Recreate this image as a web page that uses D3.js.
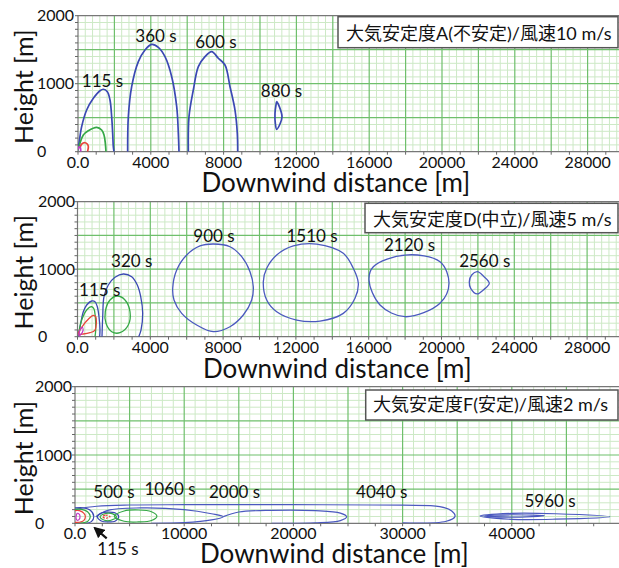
<!DOCTYPE html>
<html>
<head>
<meta charset="utf-8">
<title>Puff contours</title>
<style>
body { margin: 0; background: #fff; }
svg text { font-family: Lato, "Noto Sans CJK JP", sans-serif; fill: #111; }
.grid-minor line { stroke: #cde9c6; stroke-width: 1; }
.grid-major line { stroke: #6fbf6c; stroke-width: 1.2; }
.frame { fill: none; stroke: #777; stroke-width: 1.2; }
.tick { stroke: #666; stroke-width: 1; }
.tick-label { font-size: 16px; }
.axis-title { font-size: 26px; }
.height-title { font-size: 25px; }
.puff-label { font-size: 17px; }
.legend-box { fill: #fff; stroke: #555; stroke-width: 1.5; }
.legend-text { font-size: 18px; }
.contour { fill: none; }
</style>
</head>
<body>
<svg width="619" height="568"></svg>
<script src="https://d3js.org/d3.v7.min.js"></script>
<script>
// ---- data (downwind distance x [m], height z [m]) ----
var yTicks = [0, 1000, 2000];
var xTicksAD = [0, 4000, 8000, 12000, 16000, 20000, 24000, 28000];
var xTicksF = [0, 10000, 20000, 30000, 40000];
var titles = ["大気安定度A(不安定)/風速10 m/s", "大気安定度D(中立)/風速5 m/s", "大気安定度F(安定)/風速2 m/s"];

// stability A
var a115Blue = [[0,20],[55,123],[201,368],[476,613],[842,785],[1209,897],[1392,918],[1612,882],[1758,760],[1850,515],[1905,270],[1941,74],[1978,0]];
var a115Green = [[0,20],[293,246],[568,309],[1026,359],[1300,319],[1429,246],[1502,123],[1538,0]];
var a115Red = [[110,54],[200,110],[385,132],[520,110],[568,74],[540,20],[513,0]];
var a115Mag = [[0,30],[60,70],[130,60],[150,20],[140,0]];
var a360Blue = [[2729,0],[2766,515],[2949,956],[3315,1324],[3681,1496],[4048,1579],[4414,1535],[4780,1397],[5148,1103],[5423,662],[5513,270],[5549,0]];
var a600Blue = [[6062,0],[6099,515],[6336,907],[6612,1250],[6978,1397],[7346,1471],[7710,1374],[8077,1275],[8352,956],[8626,613],[8753,270],[8775,0]];
var a880Blue = [[10916,735],[11062,662],[11209,515],[11099,407],[10916,329],[10842,417],[10824,564],[10879,687]];
var aLabels = [["115 s",1346,956],["360 s",4286,1618],["600 s",7582,1521],["880 s",11181,809]];

// stability D
var d115Blue = [[44,0],[176,198],[319,370],[505,470],[780,529],[962,519],[1088,444],[1181,296],[1236,99],[1218,0]];
var d115Green = [[30,0],[231,247],[505,396],[780,444],[907,410],[978,296],[1000,99],[962,0]];
var d115Red = [[44,40],[319,173],[593,258],[868,317],[1000,296],[1033,198],[962,99],[687,59],[319,40]];
var d115Mag = [[82,10],[137,99],[264,139],[302,89],[176,30]];
var d320Blue = [[1346,0],[1385,296],[1456,593],[1692,766],[2060,880],[2516,929],[2978,889],[3286,766],[3473,593],[3582,346],[3489,99],[3363,0]];
var d320Green = [[2187,603],[2610,544],[2885,370],[2791,173],[2335,59],[1879,74],[1566,198],[1527,370],[1786,544]];
var d900Blue = [[5231,717],[5451,988],[6000,1210],[6731,1344],[7462,1373],[8379,1333],[9022,1185],[9478,963],[9659,741],[9571,544],[9110,321],[8379,148],[7462,74],[6549,173],[5725,346],[5302,544]];
var d1510Blue = [[10209,815],[10396,1013],[10945,1210],[11857,1344],[13143,1373],[14604,1235],[15154,1013],[15429,791],[15247,569],[14604,346],[13324,232],[12044,247],[10945,370],[10396,544]];
var d2120Blue = [[16016,840],[16254,1037],[17995,1210],[19918,1111],[20412,791],[19918,495],[17995,296],[16621,470]];
var d2560Blue = [[21527,815],[21659,914],[21967,963],[22297,899],[22626,791],[22297,692],[21967,633],[21604,717]];
var dLabels = [["115 s",1220,603],["320 s",2978,1037],["900 s",7500,1407],["1510 s",12885,1407],["2120 s",18242,1270],["2560 s",22374,1028]];

// stability F
var f115Mag = [[100,100],[200,146],[400,130],[458,97],[400,60],[200,45],[100,70]];
var f115Red = [[0,185],[400,185],[800,150],[950,100],[800,40],[400,15],[0,15]];
var f115Green = [[0,205],[600,205],[1150,170],[1400,100],[1150,25],[600,5],[0,5]];
var f115Blue = [[0,225],[700,228],[1400,190],[1720,100],[1500,25],[1000,0]];
var f500Blue = [[2045,95],[2400,150],[3000,165],[3700,150],[4000,95],[3700,35],[3000,20],[2400,35]];
var f500Green = [[2300,95],[2700,140],[3300,145],[3800,95],[3300,45],[2700,45]];
var f500Red = [[2533,97],[2800,120],[3205,97],[2800,73]];
var f1060Green = [[3600,105],[4500,180],[5800,195],[7000,170],[7500,105],[7000,40],[5800,20],[4500,30]];
var f1060Blue = [[1900,95],[3000,190],[6000,225],[10000,200],[12500,140],[13583,97],[12500,50],[10000,10],[7000,0]];
var f2000Blue = [[13583,97],[15000,165],[18000,190],[22000,185],[24300,150],[24878,97],[24300,40],[22000,5],[18000,0]];
var f4040Blue = [[0,205],[2000,250],[5000,268],[10000,272],[20000,272],[30000,265],[33400,245],[34500,180],[34800,100],[34000,30],[30000,5]];
var f5960Blue = [[37088,107],[40000,146],[44000,140],[48993,97],[44000,60],[40000,58]];
var f5960Inner = [[37500,107],[40000,125],[43000,110],[40000,90]];
var fLabels = [["500 s",3571,366],["1060 s",8700,415],["2000 s",14606,366],["4040 s",28086,366],["5960 s",43498,243],["115 s",3938,-464]];
var fArrow = [[2903,-220],[1832,-73]];

var BLUE = "#3b49b3", BLUE2 = "#4b59bf", GREEN = "#35a846", RED = "#e8433b", MAG = "#c23ac6";

var panels = [
  { left: 78, top: 15.7, bottom: 151.7, xmax: 30000, ticks: xTicksAD, minorX: 400, majorX: 2000, tickStep: 1000,
    yLabX: 37, titleX: 201.5, titleY: 191.7, boxX: 338, boxTop: 16.7, boxH: 31, textX: 346, textY: 39.5, lw: 1.7,
    contours: [[a115Blue,BLUE,0],[a115Green,GREEN,0],[a115Red,RED,0],[a115Mag,MAG,0],[a360Blue,BLUE,0],[a600Blue,BLUE,0],[a880Blue,BLUE,1]],
    labels: aLabels },
  { left: 77.5, top: 201.7, bottom: 336.7, xmax: 30000, ticks: xTicksAD, minorX: 400, majorX: 2000, tickStep: 1000,
    yLabX: 38, titleX: 203, titleY: 378, boxX: 365, boxTop: 203.3, boxH: 29.4, textX: 373, textY: 225.5, lw: 1.3,
    contours: [[d115Blue,BLUE,0],[d115Green,GREEN,0],[d115Red,RED,1],[d115Mag,MAG,1],[d320Blue,BLUE,0],[d320Green,GREEN,1],[d900Blue,BLUE2,1],[d1510Blue,BLUE2,1],[d2120Blue,BLUE2,1],[d2560Blue,BLUE2,1]],
    labels: dLabels },
  { left: 75, top: 386.7, bottom: 523.3, xmax: 50000, ticks: xTicksF, minorX: 1000, majorX: 5000, tickStep: 2500,
    yLabX: 35, titleX: 200, titleY: 563, boxX: 365.7, boxTop: 390, boxH: 30, textX: 373, textY: 411, lw: 1.2,
    contours: [[f4040Blue,BLUE2,0],[f1060Blue,BLUE2,0],[f2000Blue,BLUE2,0],[f115Blue,BLUE,0],[f115Green,GREEN,0],[f115Red,RED,0],[f115Mag,MAG,1],[f500Blue,BLUE,1],[f500Green,GREEN,1],[f500Red,RED,1],[f1060Green,GREEN,1],[f5960Blue,BLUE2,1],[f5960Inner,BLUE2,1]],
    labels: fLabels }
];

var svg = d3.select("svg");
var width = +svg.attr("width");
var plotW = 546;

panels.forEach(function (p, pi) {
  var x = d3.scaleLinear().domain([0, p.xmax]).range([p.left, p.left + plotW]);
  var y = d3.scaleLinear().domain([0, 2000]).range([p.bottom, p.top]);
  var g = svg.append("g");

  g.append("clipPath").attr("id", "clip" + pi)
    .append("rect").attr("x", p.left).attr("y", p.top)
    .attr("width", plotW).attr("height", p.bottom - p.top);

  // graph-paper grid
  var minorX = d3.range(0, p.xmax + 1, p.minorX).filter(function (v) { return v % p.majorX !== 0; });
  var majorX = d3.range(p.majorX, p.xmax + 1, p.majorX);
  var minorY = d3.range(100, 2000, 100).filter(function (v) { return v % 500 !== 0; });
  var majorY = d3.range(500, 2000, 500);

  var gm = g.append("g").attr("class", "grid-minor");
  gm.selectAll(".vx").data(minorX).enter().append("line")
    .attr("x1", d => x(d)).attr("x2", d => x(d)).attr("y1", p.top).attr("y2", p.bottom);
  gm.selectAll(".hy").data(minorY).enter().append("line")
    .attr("x1", p.left).attr("x2", width).attr("y1", d => y(d)).attr("y2", d => y(d));
  var gM = g.append("g").attr("class", "grid-major");
  gM.selectAll(".vx").data(majorX).enter().append("line")
    .attr("x1", d => x(d)).attr("x2", d => x(d)).attr("y1", p.top).attr("y2", p.bottom);
  gM.selectAll(".hy").data(majorY).enter().append("line")
    .attr("x1", p.left).attr("x2", width).attr("y1", d => y(d)).attr("y2", d => y(d));

  // frame (left, top, bottom)
  g.append("path").attr("class", "frame")
    .attr("d", "M" + width + "," + p.top + "H" + p.left + "V" + p.bottom + "H" + width);

  // small ticks
  g.selectAll(".ty").data(d3.range(0, 2001, 100)).enter().append("line").attr("class", "tick")
    .attr("x1", p.left - 3).attr("x2", p.left).attr("y1", d => y(d)).attr("y2", d => y(d));
  g.selectAll(".tx").data(d3.range(0, p.xmax + 1, p.tickStep)).enter().append("line").attr("class", "tick")
    .attr("x1", d => x(d)).attr("x2", d => x(d)).attr("y1", p.bottom).attr("y2", p.bottom + 3);

  // tick labels
  g.selectAll(".yl").data(yTicks).enter().append("text").attr("class", "tick-label")
    .attr("x", p.yLabX).attr("y", d => y(d)).attr("dy", "0.36em")
    .text(d => d);
  g.selectAll(".xl").data(p.ticks).enter().append("text").attr("class", "tick-label")
    .attr("x", d => x(d)).attr("y", p.bottom + 16).attr("text-anchor", "middle")
    .text(d => d === 0 ? "0.0" : d);

  // axis titles
  g.append("text").attr("class", "axis-title").attr("x", p.titleX).attr("y", p.titleY)
    .text("Downwind distance [m]");
  g.append("text").attr("class", "height-title")
    .attr("transform", "translate(33," + ((p.top + p.bottom) / 2 + 3) + ") rotate(-90)")
    .attr("text-anchor", "middle").text("Height [m]");

  // contours
  var open = d3.line().x(d => x(d[0])).y(d => y(d[1])).curve(d3.curveCatmullRom.alpha(0.5));
  var closed = d3.line().x(d => x(d[0])).y(d => y(d[1])).curve(d3.curveCatmullRomClosed.alpha(0.5));
  var cg = g.append("g").attr("clip-path", "url(#clip" + pi + ")");
  cg.selectAll("path").data(p.contours).enter().append("path").attr("class", "contour")
    .attr("stroke", d => d[1])
    .attr("stroke-width", p.lw)
    .attr("stroke-dasharray", d => (d[0] === f500Red ? "2,1.5" : null))
    .attr("d", d => (d[2] ? closed(d[0]) : open(d[0])));

  // time labels
  g.selectAll(".pl").data(p.labels).enter().append("text").attr("class", "puff-label")
    .attr("x", d => x(d[1])).attr("y", d => y(d[2])).attr("text-anchor", "middle")
    .text(d => d[0]);

  // legend box
  g.append("rect").attr("class", "legend-box")
    .attr("x", p.boxX).attr("y", p.boxTop).attr("width", 618 - p.boxX).attr("height", p.boxH);
  g.append("text").attr("class", "legend-text").attr("x", p.textX).attr("y", p.textY)
    .text(titles[pi]);

  if (pi === 2) {
    g.append("defs").append("marker").attr("id", "arrowhead")
      .attr("viewBox", "0 0 10 10").attr("refX", 8).attr("refY", 5)
      .attr("markerWidth", 5).attr("markerHeight", 5).attr("orient", "auto")
      .append("path").attr("d", "M0,0L10,5L0,10z").attr("fill", "#111");
    g.append("line").attr("stroke", "#111").attr("stroke-width", 2.2)
      .attr("x1", x(fArrow[0][0])).attr("y1", y(fArrow[0][1]))
      .attr("x2", x(fArrow[1][0])).attr("y2", y(fArrow[1][1]))
      .attr("marker-end", "url(#arrowhead)");
  }
});
</script>
</body>
</html>
